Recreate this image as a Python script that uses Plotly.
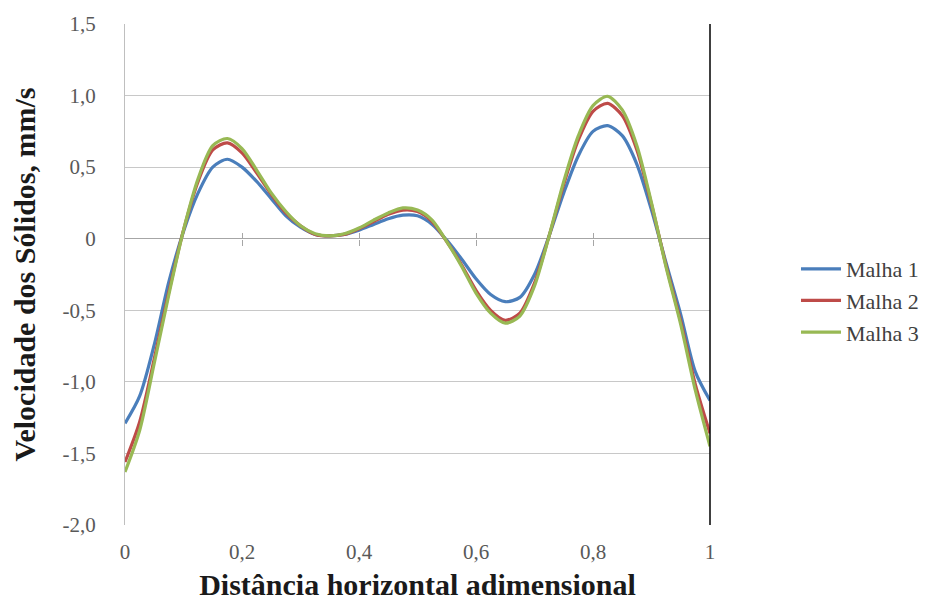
import plotly.graph_objects as go

x_vals = [0.0, 0.025, 0.05, 0.075, 0.1, 0.125, 0.15, 0.175, 0.2, 0.225, 0.25, 0.275, 0.3, 0.325, 0.35,
          0.375, 0.4, 0.425, 0.45, 0.475, 0.5, 0.525, 0.55, 0.575, 0.6, 0.625, 0.65, 0.675, 0.7,
          0.725, 0.75, 0.775, 0.8, 0.825, 0.85, 0.875, 0.9, 0.925, 0.95, 0.975, 1.0]

malha1 = [-1.29, -1.10, -0.74, -0.30, 0.05, 0.32, 0.50, 0.555, 0.50, 0.40, 0.28, 0.16, 0.08, 0.03, 0.02,
          0.03, 0.06, 0.10, 0.14, 0.165, 0.16, 0.10, -0.01, -0.14, -0.28, -0.39, -0.44, -0.41, -0.25,
          0.02, 0.32, 0.58, 0.75, 0.79, 0.72, 0.52, 0.20, -0.17, -0.53, -0.93, -1.13]

malha2 = [-1.56, -1.28, -0.84, -0.37, 0.06, 0.40, 0.62, 0.67, 0.60, 0.46, 0.31, 0.18, 0.09, 0.03, 0.02,
          0.03, 0.07, 0.12, 0.17, 0.20, 0.19, 0.12, -0.02, -0.18, -0.36, -0.50, -0.57, -0.52, -0.31,
          0.02, 0.38, 0.69, 0.89, 0.945, 0.86, 0.62, 0.24, -0.19, -0.58, -1.02, -1.36]

malha3 = [-1.63, -1.34, -0.87, -0.39, 0.06, 0.42, 0.65, 0.70, 0.63, 0.48, 0.32, 0.19, 0.09, 0.035, 0.02,
          0.035, 0.075, 0.13, 0.18, 0.215, 0.20, 0.13, -0.02, -0.19, -0.38, -0.52, -0.59, -0.54, -0.33,
          0.02, 0.40, 0.72, 0.93, 0.995, 0.90, 0.65, 0.25, -0.20, -0.60, -1.06, -1.45]

series_names = ["Malha 1", "Malha 2", "Malha 3"]
series_colors = ["#4A7EBB", "#BE4B48", "#98B954"]

x_tickvals = [0, 0.2, 0.4, 0.6, 0.8, 1]
x_ticktext = ["0", "0,2", "0,4", "0,6", "0,8", "1"]
y_tickvals = [1.5, 1.0, 0.5, 0, -0.5, -1.0, -1.5, -2.0]
y_ticktext = ["1,5", "1,0", "0,5", "0", "-0,5", "-1,0", "-1,5", "-2,0"]

SERIF = "Liberation Serif"
TICKFONT = dict(family=SERIF, size=21, color="#595959")
TITLEFONT = dict(family=SERIF, size=30, color="#1a1a1a")

fig = go.Figure()
for name, ys, col in zip(series_names, [malha1, malha2, malha3], series_colors):
    fig.add_trace(go.Scatter(x=x_vals, y=ys, mode="lines", name=name,
                             line=dict(color=col, width=3.2, shape="spline", smoothing=0.8)))

# zero-line tick marks (crossing the axis at y=0)
zero_pos = (0 - (-2.0)) / (1.5 - (-2.0))
for axname, tickdir in [("xaxis2", "outside"), ("xaxis3", "inside")]:
    fig.update_layout({axname: dict(overlaying="x", anchor="free", position=zero_pos,
                                    range=[0, 1], tickvals=x_tickvals[1:-1], ticks=tickdir,
                                    ticklen=6, tickcolor="#A6A6A6", tickwidth=1,
                                    showticklabels=False, showgrid=False, showline=False,
                                    zeroline=False)})
fig.add_trace(go.Scatter(x=[0, 1], y=[0, 0], xaxis="x2", mode="lines", line=dict(width=0),
                         showlegend=False, hoverinfo="skip"))
fig.add_trace(go.Scatter(x=[0, 1], y=[0, 0], xaxis="x3", mode="lines", line=dict(width=0),
                         showlegend=False, hoverinfo="skip"))

fig.update_layout(
    width=948, height=612,
    margin=dict(l=125, r=238, t=16, b=87),
    paper_bgcolor="white", plot_bgcolor="white",
    font=dict(family=SERIF, color="#595959", size=21),
    showlegend=True,
    legend=dict(x=1.147, xanchor="left", y=0.448, yanchor="middle",
                font=dict(family=SERIF, size=22, color="#404040"),
                bgcolor="rgba(0,0,0,0)", tracegroupgap=0, itemwidth=40),
    xaxis=dict(range=[0, 1], tickvals=x_tickvals, ticktext=x_ticktext,
               showgrid=False, zeroline=False, showline=False, ticks="",
               ticklabelstandoff=12, tickfont=TICKFONT,
               title=dict(text="<b>Distância horizontal adimensional</b>",
                          font=TITLEFONT, standoff=10)),
    yaxis=dict(range=[-2.0, 1.5], tickvals=y_tickvals, ticktext=y_ticktext,
               showgrid=True, gridcolor="#C8C8C8", gridwidth=1,
               zeroline=True, zerolinecolor="#A6A6A6", zerolinewidth=1,
               showline=True, linecolor="#BFBFBF", linewidth=1, ticks="",
               ticklabelstandoff=24, tickfont=TICKFONT,
               title=dict(text="<b>Velocidade dos Sólidos, mm/s</b>",
                          font=TITLEFONT, standoff=18)),
)

fig.add_shape(type="line", xref="paper", yref="paper", x0=1, x1=1, y0=0, y1=1,
              line=dict(color="black", width=1.5))

fig.write_html("out.html")
